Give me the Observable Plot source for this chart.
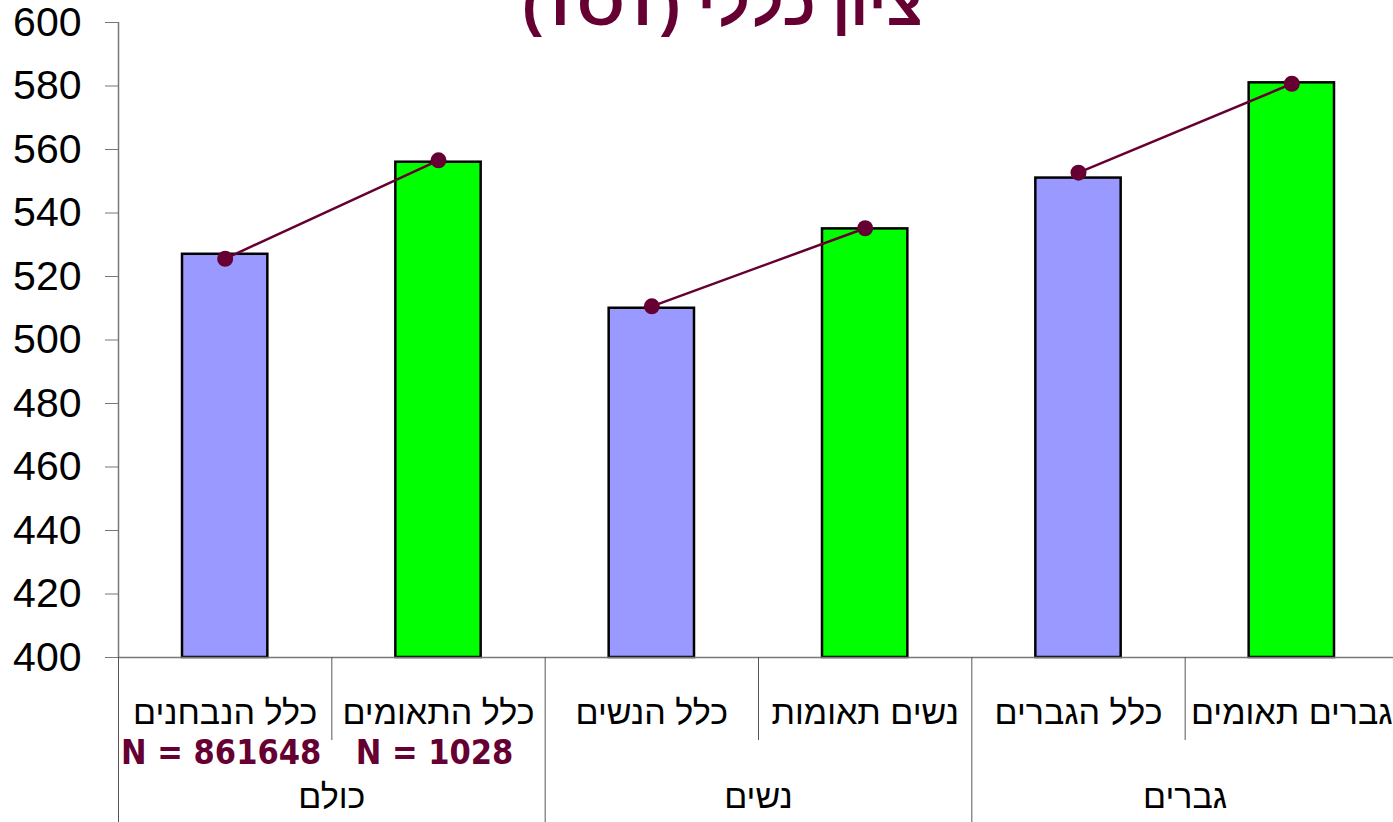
<!DOCTYPE html>
<html>
<head>
<meta charset="utf-8">
<script src="https://cdn.jsdelivr.net/npm/d3@7"></script>
<script src="https://cdn.jsdelivr.net/npm/@observablehq/plot@0.6"></script>
<style>
  html, body { margin: 0; padding: 0; background: #fff; overflow: hidden; }
</style>
</head>
<body>
<div id="chart"></div>
<script>
const title = "ציון כללי (TOT)";
const categories = ["כלל הנבחנים", "כלל התאומים", "כלל הנשים", "נשים תאומות", "כלל הגברים", "גברים תאומים"];
const groups = ["כולם", "נשים", "גברים"];
const kinds = ["all", "twins", "all", "twins", "all", "twins"];
const barValues = [527, 556, 510, 535, 551, 581];
const lineValues = [525.6, 556.6, 510.6, 535.2, 552.7, 580.7];
const nLabels = ["N = 861648", "N = 1028"];
const yTicks = [400, 420, 440, 460, 480, 500, 520, 540, 560, 580, 600];

const rows = categories.map((c, i) => ({
  i, cat: c, group: groups[Math.floor(i / 2)], kind: kinds[i],
  value: barValues[i], line: lineValues[i]
}));
const center = d => d.i + 0.5;
const maroon = "#660033";
const sans = "'Liberation Sans', Arial, sans-serif";

const chart = Plot.plot({
  width: 1393,
  height: 822,
  marginLeft: 118,
  marginRight: -5,
  marginTop: 22,
  marginBottom: 165,
  x: {domain: [0, 6], axis: null},
  y: {domain: [400, 600], axis: null},
  color: {domain: ["all", "twins"], range: ["#9999FF", "#00FF00"]},
  style: {fontFamily: sans, background: "white", color: "black"},
  marks: [
    Plot.rectY(rows, {x1: d => d.i + 0.3, x2: d => d.i + 0.7, y1: 400, y2: "value", fill: "kind", stroke: "black", strokeWidth: 2.5}),
    Plot.ruleY([400], {stroke: "#777", strokeWidth: 1.5}),
    Plot.ruleX([0], {stroke: "#777", strokeWidth: 1.5}),
    Plot.axisY(yTicks, {anchor: "left", tickSize: 13, tickPadding: 24, fontSize: 41, stroke: "#777", fill: "black", label: null, tickFormat: d => String(d)}),
    Plot.axisX([0, 2, 4, 6], {anchor: "bottom", tickSize: 165, tickFormat: () => "", stroke: "#555", label: null}),
    Plot.axisX([1, 3, 5], {anchor: "bottom", tickSize: 83, tickFormat: () => "", stroke: "#555", label: null}),
    Plot.text(rows, {x: center, text: "cat", frameAnchor: "bottom", lineAnchor: "bottom", dy: 66, fontSize: 34, fill: "black"}),
    Plot.text(nLabels, {x: (d, i) => i + 0.5, text: d => d, frameAnchor: "bottom", lineAnchor: "bottom", dy: 106, dx: -4, fontSize: 34, fontWeight: "bold", fill: maroon, fontFamily: "'DejaVu Sans Condensed', 'DejaVu Sans', sans-serif"}),
    Plot.text(groups, {x: (d, i) => 2 * i + 1, text: d => d, frameAnchor: "bottom", lineAnchor: "bottom", dy: 150, fontSize: 34, fill: "black"}),
    Plot.line(rows, {x: center, y: "line", z: "group", stroke: maroon, strokeWidth: 2.5}),
    Plot.dot(rows, {x: center, y: "line", r: 8, fill: maroon, stroke: "none"}),
    Plot.text([title], {frameAnchor: "top", lineAnchor: "bottom", dy: 2, dx: -36, fontSize: 60, fontWeight: "bold", fill: maroon})
  ]
});

chart.querySelectorAll("text").forEach(t => {
  if (/[\u0590-\u05FF]/.test(t.textContent)) t.setAttribute("direction", "rtl");
});
document.getElementById("chart").appendChild(chart);
</script>
</body>
</html>
